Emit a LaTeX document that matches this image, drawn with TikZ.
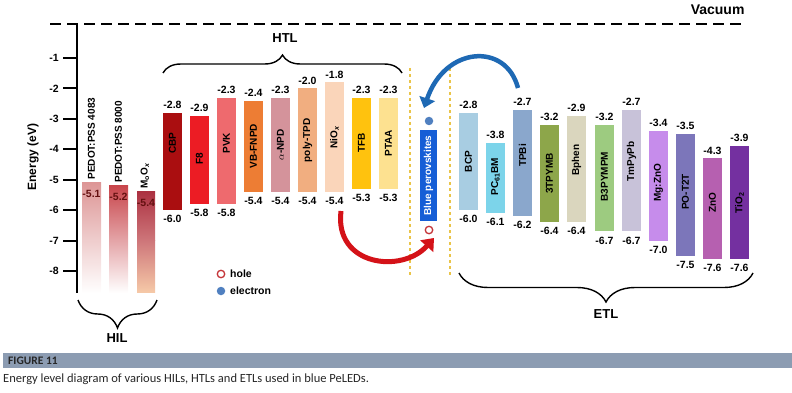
\documentclass[tikz,border=0pt]{standalone}
\usepackage{fontspec}
\setmainfont{Liberation Sans}
\newfontfamily\capfont{Carlito}
\usepackage{tikz}
\usetikzlibrary{arrows.meta,decorations.pathreplacing}

\definecolor{pedA}{RGB}{221,150,150}
\definecolor{pedB}{RGB}{200,70,76}
\definecolor{mooxtop}{RGB}{172,50,66}
\definecolor{mooxmid}{RGB}{206,118,122}
\definecolor{mooxbot}{RGB}{246,202,168}
\definecolor{cbpred}{RGB}{170,14,16}
\definecolor{fered}{RGB}{236,28,36}
\definecolor{pvkred}{RGB}{238,106,110}
\definecolor{vborange}{RGB}{237,125,52}
\definecolor{npdpink}{RGB}{212,147,155}
\definecolor{tpdorange}{RGB}{241,174,128}
\definecolor{nioxpeach}{RGB}{250,213,186}
\definecolor{tfbgold}{RGB}{255,194,14}
\definecolor{ptaayellow}{RGB}{253,225,144}
\definecolor{bcpblue}{RGB}{168,205,226}
\definecolor{pcbmcyan}{RGB}{124,212,234}
\definecolor{tpbiblue}{RGB}{138,167,204}
\definecolor{tpymbgreen}{RGB}{141,166,74}
\definecolor{bphenbeige}{RGB}{218,214,190}
\definecolor{bpmgreen}{RGB}{157,203,128}
\definecolor{tmplilac}{RGB}{200,194,217}
\definecolor{mgzviolet}{RGB}{198,140,235}
\definecolor{potpurple}{RGB}{124,118,186}
\definecolor{znomagenta}{RGB}{182,96,176}
\definecolor{tiopurple}{RGB}{116,48,160}
\definecolor{perovblue}{RGB}{22,94,214}
\definecolor{elecblue}{RGB}{80,128,192}
\definecolor{holered}{RGB}{196,52,56}
\definecolor{arrowblue}{RGB}{30,105,180}
\definecolor{arrowred}{RGB}{212,18,24}
\definecolor{guideyellow}{RGB}{234,196,72}
\definecolor{capband}{RGB}{140,156,178}
\definecolor{valred}{RGB}{100,16,16}

\begin{document}
\begin{tikzpicture}[x=1pt,y=-1pt,
  val/.style={font=\bfseries\fontsize{10.5}{11}\selectfont, inner sep=1pt},
  layername/.style={rotate=90, font=\bfseries\fontsize{10}{11}\selectfont, inner sep=0pt},
  hilname/.style={rotate=90, anchor=west, font=\bfseries\fontsize{10}{11}\selectfont, inner sep=0pt},
  ticklab/.style={anchor=east, font=\bfseries\fontsize{10.5}{11}\selectfont, inner sep=0pt},
  group/.style={font=\bfseries\fontsize{13}{14}\selectfont},
  legend/.style={anchor=west, font=\bfseries\fontsize{10.5}{11}\selectfont, inner sep=0pt},
  guide/.style={guideyellow, dashed, line width=1.2pt},
  carrier/.style={circle, inner sep=0pt, minimum size=8.5pt}]
\useasboundingbox (0,0) rectangle (792,393);

\node[rotate=90, font=\bfseries\fontsize{12}{13}\selectfont] (elabel) at (33,157) {Energy (eV)};
\node[anchor=east, font=\bfseries\fontsize{14}{15}\selectfont] (vac) at (748,10) {Vacuum};

\begin{scope}[yshift=-27.6pt, y=30.43pt]
\draw[line width=2.2pt, dash pattern=on 11pt off 6pt] (50,0.12) -- (745,0.12);
\draw[line width=2.2pt] (77,0.12) -- (77,-8.72);

\draw[line width=2pt] (63,-1) -- (77,-1);
\draw[line width=2pt] (63,-2) -- (77,-2);
\draw[line width=2pt] (63,-3) -- (77,-3);
\draw[line width=2pt] (63,-4) -- (77,-4);
\draw[line width=2pt] (63,-5) -- (77,-5);
\draw[line width=2pt] (63,-6) -- (77,-6);
\draw[line width=2pt] (63,-7) -- (77,-7);
\draw[line width=2pt] (63,-8) -- (77,-8);
\node[ticklab] (t1) at (59,-1) {-1};
\node[ticklab] (t2) at (59,-2) {-2};
\node[ticklab] (t3) at (59,-3) {-3};
\node[ticklab] (t4) at (59,-4) {-4};
\node[ticklab] (t5) at (59,-5) {-5};
\node[ticklab] (t6) at (59,-6) {-6};
\node[ticklab] (t7) at (59,-7) {-7};
\node[ticklab] (t8) at (59,-8) {-8};

% HIL
\shade[top color=pedA, bottom color=white] (82,-5.1) rectangle (101,-8.72);
\shade[top color=pedB, middle color=pedB!30, bottom color=white] (109,-5.2) rectangle (128,-8.72);
\shade[top color=mooxtop, bottom color=mooxmid] (137,-5.4) rectangle (155,-7.0);
\shade[top color=mooxmid, bottom color=mooxbot] (137,-7.0) rectangle (155,-8.72);
\node[hilname] (pedotA) at (91.5,-5.0) {PEDOT:PSS 4083};
\node[hilname] (pedotB) at (118.5,-5.1) {PEDOT:PSS 8000};
\node[hilname] (moox) at (145,-5.3) {M\textsubscript{o}O\textsubscript{\textit{x}}};
\node[val, text=valred] (pedotAv) at (91.5,-5.45) {-5.1};
\node[val, text=valred] (pedotBv) at (118.5,-5.55) {-5.2};
\node[val, text=valred] (mooxv) at (146,-5.75) {-5.4};

% HTL
\fill[cbpred] (163,-2.8) rectangle (182,-6.0);
\fill[fered] (190,-2.9) rectangle (209,-5.8);
\fill[pvkred] (217,-2.3) rectangle (236,-5.8);
\fill[vborange] (244,-2.4) rectangle (263,-5.4);
\fill[npdpink] (271,-2.3) rectangle (290,-5.4);
\fill[tpdorange] (298,-2.0) rectangle (317,-5.4);
\fill[nioxpeach] (325,-1.8) rectangle (344,-5.4);
\fill[tfbgold] (352,-2.3) rectangle (371,-5.3);
\fill[ptaayellow] (379,-2.3) rectangle (398,-5.3);

\node[layername] (cbp) at (172.5,-3.8) {CBP};
\node[layername] (f8) at (199.5,-4.3) {F8};
\node[layername] (pvk) at (226.5,-3.8) {PVK};
\node[layername] (vbfnpd) at (253.5,-3.9) {VB-FNPD};
\node[layername] (anpd) at (280.5,-3.85) {$\alpha$-NPD};
\node[layername] (polytpd) at (307.5,-3.7) {poly-TPD};
\node[layername] (niox) at (334.5,-3.6) {NiO\textsubscript{\textit{x}}};
\node[layername] (tfb) at (361.5,-3.8) {TFB};
\node[layername] (ptaa) at (388.5,-3.8) {PTAA};

\node[val, above=3pt] (cbpL) at (172.5,-2.8) {-2.8};
\node[val, above=3pt] (f8L) at (199.5,-2.9) {-2.9};
\node[val, above=3pt] (pvkL) at (226.5,-2.3) {-2.3};
\node[val, above=3pt] (vbfnpdL) at (253.5,-2.4) {-2.4};
\node[val, above=3pt] (anpdL) at (280.5,-2.3) {-2.3};
\node[val, above=3pt] (polytpdL) at (307.5,-2.0) {-2.0};
\node[val, above=3pt] (nioxL) at (334.5,-1.8) {-1.8};
\node[val, above=3pt] (tfbL) at (361.5,-2.3) {-2.3};
\node[val, above=3pt] (ptaaL) at (388.5,-2.3) {-2.3};
\node[val, below=4pt] (cbpH) at (172.5,-6.0) {-6.0};
\node[val, below=4pt] (f8H) at (199.5,-5.8) {-5.8};
\node[val, below=4pt] (pvkH) at (226.5,-5.8) {-5.8};
\node[val, below=4pt] (vbfnpdH) at (253.5,-5.4) {-5.4};
\node[val, below=4pt] (anpdH) at (280.5,-5.4) {-5.4};
\node[val, below=4pt] (polytpdH) at (307.5,-5.4) {-5.4};
\node[val, below=4pt] (nioxH) at (334.5,-5.4) {-5.4};
\node[val, below=4pt] (tfbH) at (361.5,-5.3) {-5.3};
\node[val, below=4pt] (ptaaH) at (388.5,-5.3) {-5.3};

% ETL
\fill[bcpblue] (459,-2.8) rectangle (478,-6.0);
\fill[pcbmcyan] (486,-3.8) rectangle (505,-6.1);
\fill[tpbiblue] (513,-2.7) rectangle (532,-6.2);
\fill[tpymbgreen] (540,-3.2) rectangle (559,-6.4);
\fill[bphenbeige] (567,-2.9) rectangle (586,-6.4);
\fill[bpmgreen] (595,-3.2) rectangle (614,-6.7);
\fill[tmplilac] (622,-2.7) rectangle (641,-6.7);
\fill[mgzviolet] (649,-3.4) rectangle (668,-7.0);
\fill[potpurple] (676,-3.5) rectangle (695,-7.5);
\fill[znomagenta] (703,-4.3) rectangle (722,-7.6);
\fill[tiopurple] (730,-3.9) rectangle (749,-7.6);

\node[layername] (bcp) at (468.5,-4.4) {BCP};
\node[layername] (pcbm) at (495.5,-4.9) {PC\textsubscript{61}BM};
\node[layername] (tpbi) at (522.5,-4.2) {TPBi};
\node[layername] (tpymb) at (549.5,-4.8) {3TPYMB};
\node[layername] (bphen) at (576.5,-4.35) {Bphen};
\node[layername] (bpm) at (604.5,-4.9) {B3PYMPM};
\node[layername] (tmpypb) at (631.5,-4.4) {TmPyPb};
\node[layername] (mgzno) at (658.5,-5.1) {Mg:ZnO};
\node[layername] (pot2t) at (685.5,-5.4) {PO-T2T};
\node[layername] (zno) at (712.5,-5.75) {ZnO};
\node[layername] (tio) at (739.5,-5.75) {TiO\textsubscript{2}};

\node[val, above=3pt] (bcpL) at (468.5,-2.8) {-2.8};
\node[val, above=3pt] (pcbmL) at (495.5,-3.8) {-3.8};
\node[val, above=3pt] (tpbiL) at (522.5,-2.7) {-2.7};
\node[val, above=3pt] (tpymbL) at (549.5,-3.2) {-3.2};
\node[val, above=3pt] (bphenL) at (576.5,-2.9) {-2.9};
\node[val, above=3pt] (bpmL) at (604.5,-3.2) {-3.2};
\node[val, above=3pt] (tmpypbL) at (631.5,-2.7) {-2.7};
\node[val, above=3pt] (mgznoL) at (658.5,-3.4) {-3.4};
\node[val, above=3pt] (pot2tL) at (685.5,-3.5) {-3.5};
\node[val, above=3pt] (znoL) at (712.5,-4.3) {-4.3};
\node[val, above=3pt] (tioL) at (739.5,-3.9) {-3.9};
\node[val, below=4pt] (bcpH) at (468.5,-6.0) {-6.0};
\node[val, below=4pt] (pcbmH) at (495.5,-6.1) {-6.1};
\node[val, below=4pt] (tpbiH) at (522.5,-6.2) {-6.2};
\node[val, below=4pt] (tpymbH) at (549.5,-6.4) {-6.4};
\node[val, below=4pt] (bphenH) at (576.5,-6.4) {-6.4};
\node[val, below=4pt] (bpmH) at (604.5,-6.7) {-6.7};
\node[val, below=4pt] (tmpypbH) at (631.5,-6.7) {-6.7};
\node[val, below=4pt] (mgznoH) at (658.5,-7.0) {-7.0};
\node[val, below=4pt] (pot2tH) at (685.5,-7.5) {-7.5};
\node[val, below=4pt] (znoH) at (712.5,-7.6) {-7.6};
\node[val, below=4pt] (tioH) at (739.5,-7.6) {-7.6};
\end{scope}

% emitter and carriers
\draw[guide] (410,68) -- (410,277);
\draw[guide] (450,68) -- (450,277);
\node[fill=perovblue, text=white, rotate=90, minimum width=91pt, minimum height=17pt, inner sep=0pt,
  font=\bfseries\fontsize{10}{11}\selectfont] (perov) at (428.5,175.5) {Blue perovskites};
\node[carrier, fill=elecblue] (elec) at (429,121) {};
\node[carrier, draw=holered, line width=1.3pt, minimum size=7.5pt] (hole) at (429,230) {};

\coordinate (etail) at (518,88);
\coordinate (ehead) at (424,108);
\draw[arrowblue, line width=4.5pt, -{Triangle[length=10pt,width=16pt]}] (etail) .. controls (506,42) and (445,46) .. (ehead);
\coordinate (htail) at (341,211);
\coordinate (hhead) at (434,238);
\draw[arrowred, line width=5pt, -{Triangle[length=11pt,width=17pt]}] (htail) .. controls (334,266) and (402,274) .. (hhead);

% legend
\node[carrier, draw=holered, line width=1.3pt, minimum size=7.5pt] (holekey) at (221,274) {};
\node[carrier, fill=elecblue] (eleckey) at (221,291) {};
\node[legend] (holetxt) at (230,274) {hole};
\node[legend] (electxt) at (230,291) {electron};

% braces
\draw[decorate, decoration={brace, amplitude=18pt}, line width=1.4pt] (163,73) -- (402,73);
\draw[decorate, decoration={brace, amplitude=28pt}, line width=1.4pt] (157,300) -- (78,300);
\draw[decorate, decoration={brace, amplitude=29pt}, line width=1.4pt] (753,273) -- (459,273);
\node[group] (htl) at (285,38) {HTL};
\node[group] (hil) at (117,338) {HIL};
\node[group] (etl) at (606,314) {ETL};

% caption
\fill[capband] (3,353) rectangle (792,368);
\node[anchor=west, inner sep=0pt, font=\capfont\bfseries\fontsize{11.5}{12}\selectfont, text=black!85] (figno) at (8,360.5) {FIGURE 11};
\node[anchor=west, inner sep=0pt, font=\capfont\fontsize{12.5}{13}\selectfont, text=black!85] (caption) at (3,379) {Energy level diagram of various HILs, HTLs and ETLs used in blue PeLEDs.};
\end{tikzpicture}
\end{document}
